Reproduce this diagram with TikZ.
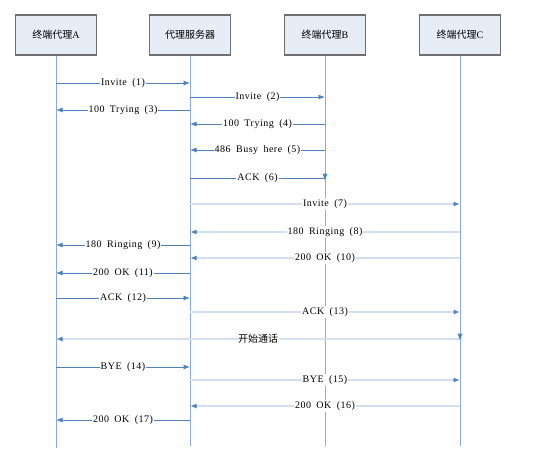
\documentclass[tikz,border=0pt]{standalone}
\usepackage{fontspec}
\setmainfont{Liberation Serif}
\newfontfamily\cjk{Noto Sans CJK SC}
\newfontfamily\lblfont[LetterSpace=5,WordSpace=1.8]{Liberation Serif}
\usetikzlibrary{arrows.meta}
\definecolor{dk}{HTML}{4F81BD}
\definecolor{lt}{HTML}{D3DFEF}
\definecolor{life}{HTML}{8EAADB}
\definecolor{boxfill}{HTML}{E7EDF6}
\definecolor{boxline}{HTML}{6F6F6F}
\tikzset{
  actor/.style={draw=boxline, line width=1.2pt, fill=boxfill, minimum width=81pt, minimum height=40pt, inner sep=0pt, font=\fontsize{10}{12}\selectfont},
  lifeline/.style={draw=life, line width=1pt},
  dkmsg/.style={draw=dk, line width=0.8pt, -{Latex[length=6.5pt,width=5pt,color=dk]}},
  ltmsg/.style={draw=lt, line width=1.3pt, -{Latex[length=6.5pt,width=5pt,color=dk]}},
  lbl/.style={fill=white, inner sep=1pt, text=black, font=\lblfont\fontsize{10}{11}\selectfont},
  cjklbl/.style={fill=white, inner sep=1pt, text=black, font=\cjk\fontsize{10}{11}\selectfont},
  tri/.style={fill=dk}
}
\newcommand\msg[5]{\draw[#5] (#1 |- 0,#3) -- node[lbl]{#4} (#2 |- 0,#3);}
\begin{document}
\begin{tikzpicture}[x=1pt,y=-1pt]
\useasboundingbox (0,0) rectangle (554,451);
\node[actor] (A) at (56,35) {{\cjk 终端代理}A};
\node[actor] (S) at (190,35) {\cjk 代理服务器};
\node[actor] (B) at (325,35) {{\cjk 终端代理}B};
\node[actor] (C) at (460,35) {{\cjk 终端代理}C};
\coordinate (Aend) at (56,448);
\coordinate (Send) at (190,446);
\coordinate (Bend) at (325,446);
\coordinate (Cend) at (460,446);
\draw[lifeline] (A.south) -- (Aend);
\draw[lifeline] (S.south) -- (Send);
\draw[lifeline] (B.south) -- (Bend);
\draw[lifeline] (C.south) -- (Cend);
\msg{A}{S}{83}{Invite (1)}{dkmsg}
\msg{S}{B}{97}{Invite (2)}{dkmsg}
\msg{S}{A}{110}{100 Trying (3)}{dkmsg}
\msg{B}{S}{124}{100 Trying (4)}{dkmsg}
\msg{B}{S}{150}{486 Busy here (5)}{dkmsg}
\draw[dkmsg,-] (S |- 0,178) -- node[lbl]{ACK (6)} (B |- 0,178);
\fill[tri] (322.5,173.5) -- (327.5,173.5) -- (325,180) -- cycle;
\msg{S}{C}{204}{Invite (7)}{ltmsg}
\msg{C}{S}{232}{180 Ringing (8)}{ltmsg}
\msg{S}{A}{245}{180 Ringing (9)}{dkmsg}
\msg{C}{S}{258}{200 OK (10)}{ltmsg}
\msg{S}{A}{273}{200 OK (11)}{dkmsg}
\msg{A}{S}{298}{ACK (12)}{dkmsg}
\msg{S}{C}{312}{ACK (13)}{ltmsg}
\draw[ltmsg] (C |- 0,339) -- node[cjklbl]{开始通话} (A |- 0,339);
\fill[tri] (457.5,333.5) -- (462.5,333.5) -- (460,340) -- cycle;
\msg{A}{S}{367}{BYE (14)}{dkmsg}
\msg{S}{C}{380}{BYE (15)}{ltmsg}
\msg{C}{S}{406}{200 OK (16)}{ltmsg}
\msg{S}{A}{420}{200 OK (17)}{dkmsg}
\end{tikzpicture}
\end{document}
